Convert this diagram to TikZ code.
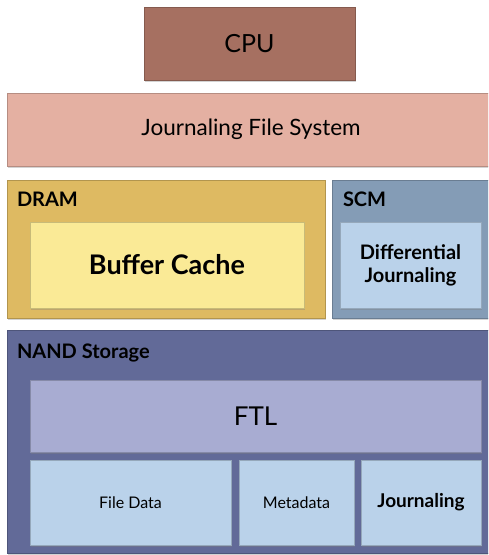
\documentclass[tikz,border=0pt]{standalone}
\usepackage{fontspec}
\setmainfont{Lato}
\usetikzlibrary{positioning,shadows}

% Layer colours (dark edge / light middle)
\definecolor{cpuDark}{RGB}{166,112,97}
\definecolor{cpuLight}{RGB}{194,134,116}
\definecolor{fsDark}{RGB}{228,176,162}
\definecolor{fsLight}{RGB}{238,204,194}
\definecolor{dramDark}{RGB}{222,186,98}
\definecolor{dramLight}{RGB}{246,216,112}
\definecolor{cacheDark}{RGB}{250,234,150}
\definecolor{cacheLight}{RGB}{255,247,190}
\definecolor{scmDark}{RGB}{132,156,182}
\definecolor{scmLight}{RGB}{164,186,208}
\definecolor{nandDark}{RGB}{98,106,152}
\definecolor{nandLight}{RGB}{112,120,166}
\definecolor{ftlDark}{RGB}{168,172,210}
\definecolor{ftlLight}{RGB}{196,196,226}
\definecolor{blkDark}{RGB}{186,210,234}
\definecolor{blkLight}{RGB}{212,228,244}

\begin{document}
\begin{tikzpicture}[x=1pt,y=1pt]
    % -----------------------------
    % Parameters (pixel grid of the figure, y grows down)
    % -----------------------------
    \def\W{488}         % picture width
    \def\H{555}         % picture height
    \def\lw{0.4pt}      % outline width

    \newcommand{\labelsize}[1]{\fontsize{#1}{#1}\selectfont}

    % -----------------------------
    % Styles
    % -----------------------------
    \tikzset{
      layer/.style 2 args={draw=#1!80!black, line width=\lw, inner sep=0pt,
        left color=#1, middle color=#2, right color=#1,
        drop shadow={shadow xshift=1pt, shadow yshift=-1.5pt, opacity=0.35}},
      tag/.style={inner sep=0pt, font=\bfseries\labelsize{20}}
    }

    \useasboundingbox (0,0) rectangle (\W,-\H);
    \clip (0,0) rectangle (\W,-\H);

    % -----------------------------
    % Host side
    % -----------------------------
    \node[layer={cpuDark}{cpuLight}, minimum width=211, minimum height=73,
          font=\labelsize{25}] (cpu) at (249.5,-43.5) {CPU};
    \node[layer={fsDark}{fsLight}, minimum width=488, minimum height=73,
          font=\labelsize{22.5}] (jfs) at (251,-129.5) {Journaling File System};

    % -----------------------------
    % Memory row: DRAM and SCM
    % -----------------------------
    \node[layer={dramDark}{dramLight}, minimum width=318, minimum height=138]
      (dram) at (166,-249) {};
    \node[layer={cacheDark}{cacheLight}, minimum width=274, minimum height=86,
          font=\bfseries\labelsize{27}] (cache) at (167,-265) {Buffer Cache};
    \node[tag, below right=12 and 10 of dram.north west, anchor=north west]
      (dramTag) {DRAM};

    \node[layer={scmDark}{scmLight}, minimum width=163, minimum height=138]
      (scm) at (413.5,-249) {};
    \node[layer={blkDark}{blkLight}, minimum width=141, minimum height=86,
          align=center, font=\bfseries\labelsize{20}] (diffj) at (410.5,-265)
      {Differential\\[3pt]Journaling};
    \node[tag, below right=12 and 11 of scm.north west, anchor=north west]
      (scmTag) {SCM};

    % -----------------------------
    % NAND storage
    % -----------------------------
    \node[layer={nandDark}{nandLight}, minimum width=488, minimum height=223]
      (nand) at (251,-441.5) {};
    \node[tag, below right=14 and 10 of nand.north west, anchor=north west]
      (nandTag) {NAND Storage};

    \node[layer={ftlDark}{ftlLight}, minimum width=451, minimum height=72,
          font=\labelsize{26}] (ftl) at (255.5,-416) {FTL};

    \node[layer={blkDark}{blkLight}, minimum width=201, minimum height=85,
          font=\labelsize{16}] (fdata) at (130.5,-502.5) {File Data};
    \node[layer={blkDark}{blkLight}, minimum width=115, minimum height=85,
          font=\labelsize{16}] (meta) at (296.5,-502.5) {Metadata};
    \node[layer={blkDark}{blkLight}, minimum width=120, minimum height=85,
          font=\bfseries\labelsize{19}] (jrnl) at (421,-502.5) {Journaling};

\end{tikzpicture}
\end{document}
